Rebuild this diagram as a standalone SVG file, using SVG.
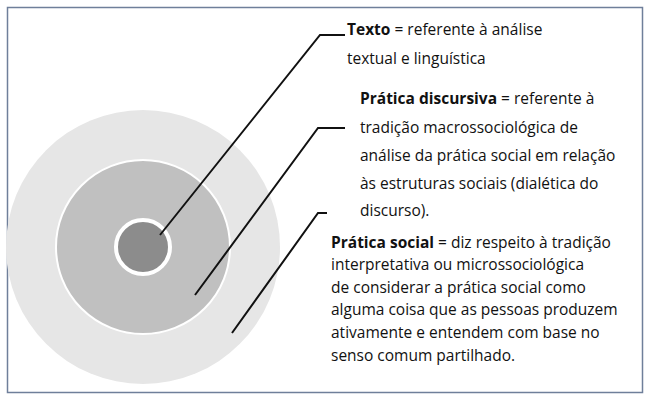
<svg xmlns="http://www.w3.org/2000/svg" width="650" height="400" viewBox="0 0 650 400">
<style>
text{font-family:"Open Sans","Noto Sans",sans-serif;font-size:15.5px;fill:#111}
.b{font-weight:bold}
.c{stroke:#111;stroke-width:2;fill:none}
</style>
<rect x="0" y="0" width="650" height="400" fill="#fff"/>
<rect x="7.5" y="7.5" width="635" height="385" fill="none" stroke="#6f7f9a" stroke-width="1.5"/>
<g id="outer"><circle cx="143" cy="247" r="137" fill="#e6e6e6"/></g>
<g id="middle"><circle cx="143" cy="247" r="87" fill="#c0c0c0" stroke="#fff" stroke-width="2"/></g>
<g id="inner"><circle cx="143" cy="247" r="27" fill="#8c8c8c" stroke="#fff" stroke-width="4"/></g>
<g id="connectors">
<polyline class="c" points="160,235 320,35 345,35"/>
<polyline class="c" points="195,295 318,128 345,128"/>
<polyline class="c" points="232,333 318,213 327,213"/>
</g>
<g id="texto">
<text x="347" y="35"><tspan class="b">Texto</tspan> = referente à análise</text>
<text x="347" y="64">textual e linguística</text>
</g>
<g id="discursiva">
<text x="360" y="104"><tspan class="b">Prática discursiva</tspan> = referente à</text>
<text x="360" y="133">tradição macrossociológica de</text>
<text x="360" y="161">análise da prática social em relação</text>
<text x="360" y="189">às estruturas sociais (dialética do</text>
<text x="360" y="216">discurso).</text>
</g>
<g id="social">
<text x="331" y="248"><tspan class="b">Prática social</tspan> = diz respeito à tradição</text>
<text x="331" y="270">interpretativa ou microssociológica</text>
<text x="331" y="293">de considerar a prática social como</text>
<text x="331" y="315">alguma coisa que as pessoas produzem</text>
<text x="331" y="338">ativamente e entendem com base no</text>
<text x="331" y="361">senso comum partilhado.</text>
</g>
</svg>
